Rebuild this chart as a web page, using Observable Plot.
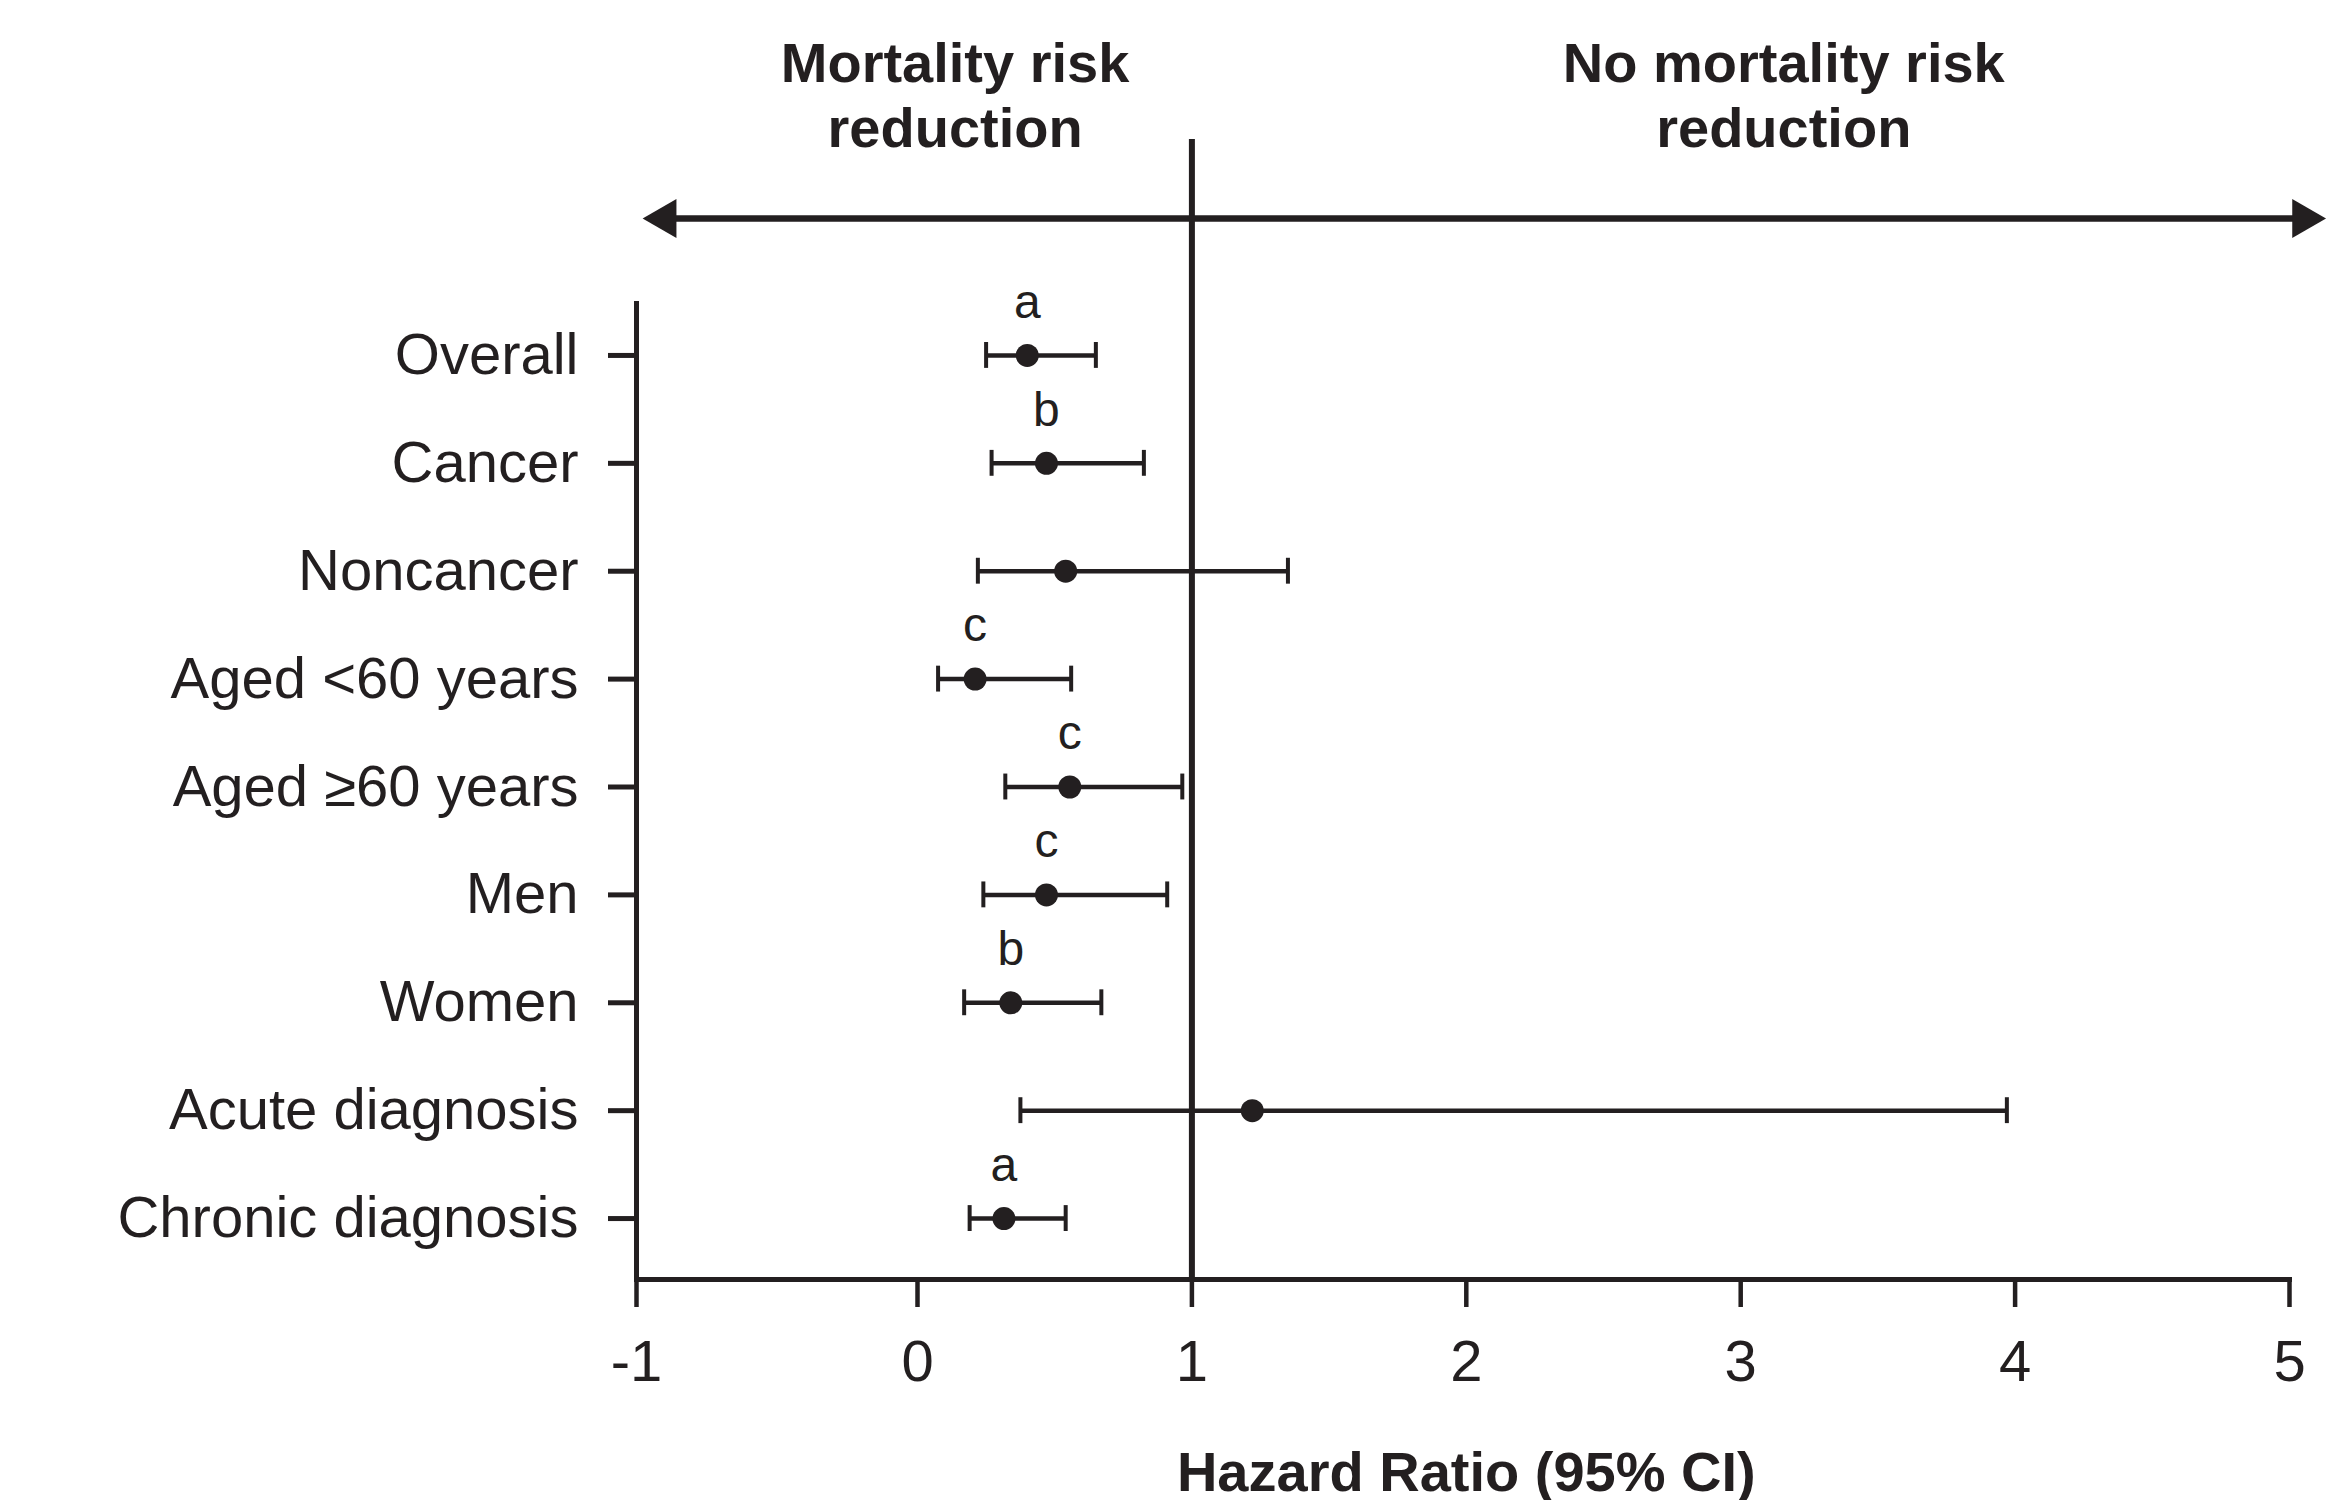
<!DOCTYPE html>
<html><head><meta charset="utf-8">
<script src="https://cdn.jsdelivr.net/npm/d3@7"></script>
<script src="https://cdn.jsdelivr.net/npm/@observablehq/plot@0.6"></script>
<style>body{margin:0;background:#fff} svg{display:block}</style>
</head><body><div id="chart"></div>
<script>
// ---- data ----
const categories = ["Overall","Cancer","Noncancer","Aged <60 years","Aged \u226560 years","Men","Women","Acute diagnosis","Chronic diagnosis"];
const hazardRatio = [0.40, 0.47, 0.54, 0.21, 0.555, 0.47, 0.34, 1.22, 0.315];
const ciLow  = [0.25, 0.27, 0.22, 0.075, 0.32, 0.24, 0.17, 0.375, 0.19];
const ciHigh = [0.65, 0.825, 1.35, 0.56, 0.965, 0.91, 0.67, 3.97, 0.54];
const sigLetters = ["a","b","","c","c","c","b","","a"];
const xTicks = [-1, 0, 1, 2, 3, 4, 5];
const nullLine = [1];
const regionLabels = ["Mortality risk\nreduction", "No mortality risk\nreduction"];
const regionLabelX = [0.137, 3.157];
const arrowEnds = [-0.898, 5.051];
const axisTitle = "Hazard Ratio (95% CI)";

// ---- tables ----
const rows = categories.map((c, i) => ({cat: c, hr: hazardRatio[i], lo: ciLow[i], hi: ciHigh[i], letter: sigLetters[i]}));
const regions = regionLabels.map((t, i) => ({label: t, x: regionLabelX[i]}));
const heads = arrowEnds.map((x, i) => ({x, rot: i === 0 ? -90 : 90, cat: categories[0]}));
const ink = "#231f20";
const font = "'Liberation Sans', Arial, Helvetica, sans-serif";
const capInset = 41;

const chart = Plot.plot({
  width: 2337, height: 1500,
  marginLeft: 636, marginRight: 48, marginTop: 303, marginBottom: 221,
  style: {fontFamily: font, color: ink, background: "#fff", overflow: "visible"},
  x: {type: "linear", domain: [-1, 0, 5], range: [636, 917, 2289]},
  y: {type: "band", domain: categories, range: [301, 1272], padding: 0, round: false},
  marks: [
    Plot.axisX({ticks: xTicks, tickFormat: d => String(d), tickSize: 28, tickPadding: 32, fontSize: 58, strokeWidth: 4.5, label: null}),
    Plot.axisY({tickSize: 28, tickPadding: 30, fontSize: 58, strokeWidth: 5, label: null}),
    Plot.frame({anchor: "left", stroke: ink, strokeWidth: 5}),
    Plot.frame({anchor: "bottom", stroke: ink, strokeWidth: 5}),
    Plot.ruleX(nullLine, {x: d => d, insetTop: -164, stroke: ink, strokeWidth: 6}),
    // double arrow
    Plot.ruleY([categories[0]], {y: d => d, x1: arrowEnds[0], x2: arrowEnds[1], dy: -137, stroke: ink, strokeWidth: 6.5}),
    Plot.dot(heads, {x: "x", y: "cat", dy: -137, symbol: "triangle", r: 14.5, rotate: "rot", fill: ink, stroke: "none"}),
    // error bars
    Plot.ruleY(rows, {y: "cat", x1: "lo", x2: "hi", stroke: ink, strokeWidth: 4.5}),
    Plot.tickX(rows, {x: "lo", y: "cat", insetTop: capInset, insetBottom: capInset, stroke: ink, strokeWidth: 4}),
    Plot.tickX(rows, {x: "hi", y: "cat", insetTop: capInset, insetBottom: capInset, stroke: ink, strokeWidth: 4}),
    Plot.dot(rows, {x: "hr", y: "cat", r: 11.5, fill: ink, stroke: "none"}),
    Plot.text(rows.filter(d => d.letter), {x: "hr", y: "cat", text: "letter", dy: -53, fontSize: 48, fill: ink}),
    // region labels
    Plot.text(regions, {x: "x", text: "label", frameAnchor: "top", dy: -210, lineAnchor: "middle", lineHeight: 1.16, fontSize: 56, fontWeight: "bold", fill: ink}),
    // axis title
    Plot.text([axisTitle], {x: 2, text: d => d, frameAnchor: "bottom", dy: 194, lineAnchor: "middle", fontSize: 56, fontWeight: "bold", fill: ink})
  ]
});
document.getElementById("chart").appendChild(chart);
</script>
</body></html>
